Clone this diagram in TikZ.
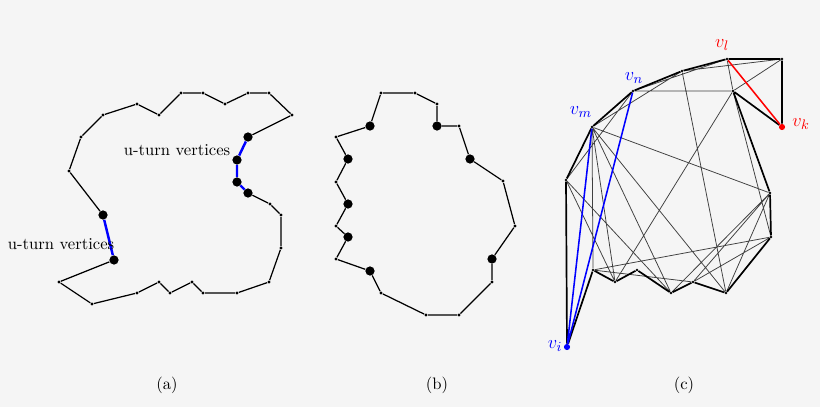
\documentclass[tikz,border=0pt]{standalone}
\begin{document}
\begin{tikzpicture}[x=0.65pt,y=-0.65pt,
  every node/.append style={font=\fontsize{10.8}{13}\selectfont},
  sd/.style={circle,fill=black,inner sep=0pt,minimum size=2.2pt},
  bd/.style={circle,fill=black,inner sep=0pt,minimum size=6pt},
  edge/.style={line width=0.8pt},
  uedge/.style={blue,line width=1.6pt},
  chord/.style={black!75,line width=0.5pt},
  bnd/.style={line width=1.1pt},
  vlab/.style={font=\fontsize{13}{15}\selectfont}]
\useasboundingbox[fill=white!96!black] (0,0) rectangle (820,407);
% ---- (a)
\foreach \n/\x/\y in {a1/181/93,a2/203/93,a3/225/104,a4/248/93,a5/269/93,a6/292/115,a7/270/204,a8/281/215,a9/281/248,a10/269/282,a11/237/293,a12/203/293,a13/192/282,a14/170/293,a15/159/282,a16/137/293,a17/92/304,a18/59/282,a19/69/171,a20/81/137,a21/103/115,a22/137/104,a23/159/115}
  \node[sd] (\n) at (\x,\y) {};
\foreach \n/\x/\y in {u1/248/137,u2/237/160,u3/237/182,u4/248/193,u5/114/260,u6/103/215}
  \node[bd] (\n) at (\x,\y) {};
\draw[edge] (a1)--(a2)--(a3)--(a4)--(a5)--(a6)--(u1) (u4)--(a7)--(a8)--(a9)--(a10)--(a11)--(a12)--(a13)--(a14)--(a15)--(a16)--(a17)--(a18)--(u5) (u6)--(a19)--(a20)--(a21)--(a22)--(a23)--(a1);
\draw[uedge] (u1)--(u2)--(u3)--(u4) (u5)--(u6);
\node (la1) at (177,150) {u-turn vertices};
\node (la2) at (61,244) {u-turn vertices};
% ---- (b)
\foreach \n/\x/\y in {b1/381/93,b2/415/93,b3/437/104,b5/459/126,b7/503/181,b8/515/226,b10/492/282,b11/459/315,b12/426/315,b13/381/293,b15/336/259,b17/336/226,b19/336/182,b21/336/137}
  \node[sd] (\n) at (\x,\y) {};
\foreach \n/\x/\y in {b4/437/126,b6/470/159,b9/492/259,b14/370/271,b16/348/237,b18/348/204,b20/348/159,b22/370/126}
  \node[bd] (\n) at (\x,\y) {};
\draw[edge] (b1)--(b2)--(b3)--(b4)--(b5)--(b6)--(b7)--(b8)--(b9)--(b10)--(b11)--(b12)--(b13)--(b14)--(b15)--(b16)--(b17)--(b18)--(b19)--(b20)--(b21)--(b22)--(b1);
% ---- (c)
\foreach \n/\x/\y in {c1/566/180,vm/592/127,vn/633/91,c4/682/71,vl/727/59,c6/782/59,c8/733/91,c9/770/193,c10/771/237,c11/726/293,c12/693/282,c13/671/293,c14/637/270,c15/615/282,c16/593/270}
  \node[sd,minimum size=1.8pt] (\n) at (\x,\y) {};
\node[circle,fill=blue,inner sep=0pt,minimum size=4pt] (vi) at (567,347) {};
\node[circle,fill=red,inner sep=0pt,minimum size=4pt] (vk) at (782,127) {};
\draw[chord] (vm)--(c4) (c1)--(vn) (vn)--(vl) (c4)--(c6) (vl)--(c8) (c6)--(c8)--(c15)
  (c4)--(c11) (vn)--(c8) (vm)--(c9) (vm)--(c15) (vm)--(c13) (vm)--(c11) (vm)--(c16)
  (c1)--(c15) (c1)--(c13) (c9)--(c13) (c9)--(c12) (c10)--(c12) (c10)--(c16) (c16)--(c12)
  (c8)--(c10) (c9)--(c11);
\draw[bnd] (vi)--(c1)--(vm)--(vn)--(c4)--(vl)--(c6)--(vk)--(c8)--(c9)--(c10)--(c11)--(c12)--(c13)--(c14)--(c15)--(c16)--(vi);
\draw[blue,line width=1pt] (vi)--(vm) (vi)--(vn);
\draw[red,line width=1pt] (vl)--(vk);
\node[blue,vlab] (li) at (555,346) {$v_i$};
\node[blue,vlab] (lm) at (581,112) {$v_m$};
\node[blue,vlab] (ln) at (634,78) {$v_n$};
\node[red,vlab] (ll) at (722,45) {$v_l$};
\node[red,vlab] (lk) at (801,124) {$v_k$};
\node (ca) at (167,385) {(a)};
\node (cb) at (437,385) {(b)};
\node (cc) at (684,385) {(c)};
\end{tikzpicture}
\end{document}
